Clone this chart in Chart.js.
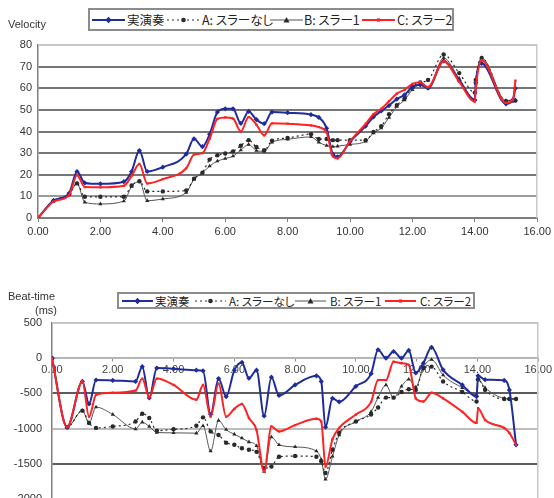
<!DOCTYPE html>
<html><head><meta charset="utf-8">
<script src="https://cdn.jsdelivr.net/npm/chart.js@4.4.1/dist/chart.umd.min.js"></script>
<style>
html,body{margin:0;padding:0;width:554px;height:498px;overflow:hidden;background:#fff;}
canvas{position:absolute;left:0;}
#c1{top:0;}
#c2{top:245px;}
.legend{position:absolute;border:2px solid #8c8c8c;box-sizing:border-box;background:#fff;
 font-family:"Noto Sans CJK JP",sans-serif;color:#222;font-feature-settings:"palt";white-space:nowrap;}
.legend .it{position:absolute;top:0;height:100%;display:flex;align-items:center;}
.legend svg{display:block;}
</style></head><body>
<canvas id="c1" width="554" height="245"></canvas>
<canvas id="c2" width="554" height="280"></canvas>
<div id="lg1" class="legend" style="left:88px;top:8px;width:366px;height:23px;font-size:12.5px;"></div>
<div id="lg2" class="legend" style="left:117px;top:292px;width:358px;height:17px;font-size:11.5px;"></div>
<script>
// ---------- data ----------
const seriesNames = ["実演奏", "A: スラーなし", "B: スラー1", "C: スラー2"];

const velX = [0,0.5,1.0,1.25,1.5,2.0,2.75,3.0,3.25,3.5,4.0,4.75,5.0,5.27,5.5,5.75,6.0,6.25,6.5,6.75,7.0,7.25,7.5,8.0,8.75,9.0,9.25,9.45,9.6,10.0,10.5,10.75,11.0,11.25,11.5,11.75,12.0,12.25,12.5,13.0,13.5,14.0,14.03,14.22,15.0,15.22,15.3];
const velReal = [0,8.0,11.5,21.5,16.2,15.8,16.8,21.5,31.2,21.5,23.5,29.5,36.6,33,38.7,49,50.5,50.5,43.8,49.3,45.5,43.6,49,48.7,47.8,46.5,41.5,29.5,28.3,35.3,42.5,46.7,49.5,52,55,57,60.6,61.6,60,72.6,63.5,54.5,62.5,71.5,52.8,54.6,60];
const velA = [0,8,11,16,9.8,9.8,9.8,15,17,12.3,12.3,12.7,18.2,21,27,29,29.8,30.8,33.4,36,32.8,31.3,35.8,37,38.8,36.5,36.5,36,36,36,36,39.8,42.4,48,52.2,55.4,60.5,62.7,63.8,75.6,67,58,63.8,74,54,54.3,54.3];
const velB = [0,8,11,16,7.3,6.5,7.8,14.5,17,8,8.8,11.8,17.9,20.8,24,26.3,27.5,28.6,31.4,34,31.2,30.8,35,36.4,37.5,35,33.5,33,33.2,34,35.5,39.3,41.6,46.5,51.5,54.6,59.3,61.6,60.2,74,64.5,55,62,74,54.3,54.6,54.6];
const velC = [0,7.6,10.6,19.8,14.3,14.2,14.9,19.5,25,16,18,23,29.3,30,36.6,45.8,46.5,46,40,46.7,43.2,38.2,43.8,43.6,42.8,42,39.5,28.5,27.6,35.5,43.5,48,50.5,54,57.5,59.3,62,62.8,60.5,72.5,63,53.8,60,73,53.2,54.6,63.5];

const btX = [0,0.5,1.0,1.22,1.45,2.0,2.75,2.97,3.2,3.45,4.0,4.75,4.97,5.22,5.48,5.73,6.0,6.25,6.48,6.73,6.98,7.22,7.47,8.0,8.7,8.86,9.0,9.23,9.45,10.0,10.5,10.73,10.99,11.24,11.5,11.74,11.97,12.22,12.49,12.87,13.5,13.97,14.02,14.25,14.88,15.05,15.27];
const btReal = [0,-980,-330,-650,-310,-315,-330,-120,-565,-140,-150,-170,-180,-800,-290,-545,-170,-60,-285,-170,-820,-270,-530,-380,-250,-330,-980,-570,-620,-400,-220,120,0,95,0,110,-210,-70,155,-165,-380,-545,-250,-305,-315,-450,-1230];
const btA = [0,-980,-745,-920,-990,-970,-900,-790,-850,-1030,-1010,-960,-840,-1040,-1090,-1200,-1230,-1280,-1300,-1330,-1560,-1540,-1400,-1390,-1400,-1465,-1630,-1300,-1060,-900,-800,-700,-560,-560,-480,-440,-450,-140,-120,-330,-480,-615,-300,-450,-580,-580,-580];
const btB = [0,-980,-745,-920,-695,-800,-1005,-910,-970,-1055,-1060,-1065,-960,-1320,-885,-1015,-1080,-1135,-1190,-1245,-1610,-1120,-1230,-1260,-1320,-1440,-1720,-1395,-1090,-900,-760,-560,-380,-565,-400,-300,-410,-130,-20,-240,-420,-520,-300,-420,-570,-575,-577];
const btC = [0,-980,-330,-830,-520,-490,-460,-290,-555,-290,-380,-590,-380,-830,-360,-830,-720,-650,-850,-1020,-1610,-970,-1040,-950,-860,-900,-1540,-1150,-990,-800,-620,-310,-310,-50,-70,-95,-570,-615,-490,-570,-760,-920,-710,-875,-990,-1060,-1230];

const xTickValues = [0,2,4,6,8,10,12,14,16];
const velTickValues = [0,10,20,30,40,50,60,70,80];
const btTickValues = [500,0,-500,-1000,-1500,-2000];

// ---------- styles ----------
const BLUE = "#1f2c9c", RED = "#ff2222", DARK = "#2a2a2a", GRAY = "#555555";
const tickFont = {family: '"Liberation Sans", Arial, sans-serif', size: 11};

function pts(xs, ys){ return xs.map((x,i)=>({x:x, y:ys[i]})); }
function makeSets(xs, real, a, b, c){
  return [
    {label: seriesNames[0], data: pts(xs, real), borderColor: BLUE, backgroundColor: BLUE, borderWidth: 2,
     pointStyle: 'rectRot', pointRadius: 2.6, order: 1},
    {label: seriesNames[1], data: pts(xs, a), borderColor: DARK, backgroundColor: DARK, borderWidth: 1.2,
     borderDash: [2,3], pointStyle: 'circle', pointRadius: 2.2, order: 2},
    {label: seriesNames[2], data: pts(xs, b), borderColor: GRAY, backgroundColor: DARK, borderWidth: 1,
     pointStyle: 'triangle', pointRadius: 2.4, order: 3},
    {label: seriesNames[3], data: pts(xs, c), borderColor: RED, backgroundColor: RED, borderWidth: 2,
     pointStyle: 'rect', pointRadius: 1.6, order: 0}
  ].map(d => Object.assign(d, {cubicInterpolationMode: 'monotone', pointBorderWidth: 0, fill: false}));
}

function titlePlugin(lines){
  return {id: 'ytitle', afterDraw(chart){
    const ctx = chart.ctx; ctx.save();
    ctx.font = '11px "Liberation Sans", Arial, sans-serif'; ctx.fillStyle = '#333'; ctx.textBaseline = 'middle';
    lines.forEach(l => ctx.fillText(l.t, l.x, l.y));
    ctx.restore();
  }};
}
const framePlugin = {id: 'frame', beforeDatasetsDraw(chart){
  const a = chart.chartArea, ctx = chart.ctx; ctx.save();
  ctx.strokeStyle = '#c8c8c8'; ctx.lineWidth = 1.5; ctx.beginPath();
  ctx.moveTo(a.left, a.top); ctx.lineTo(a.right - 0.5, a.top); ctx.lineTo(a.right - 0.5, a.bottom); ctx.stroke();
  ctx.restore();
}};

const common = {
  responsive: false, animation: false, devicePixelRatio: 1,
  plugins: {legend: {display: false}, tooltip: {enabled: false}},
  elements: {line: {tension: 0.3}}
};

// ---------- top chart ----------
new Chart(document.getElementById('c1'), {
  type: 'line',
  data: {datasets: makeSets(velX, velReal, velA, velB, velC)},
  options: Object.assign({}, common, {
    layout: {padding: {top: 45, right: 14, bottom: 3, left: 0}},
    scales: {
      x: {type: 'linear', min: 0, max: 16,
        afterBuildTicks: s => { s.ticks = xTickValues.map(v => ({value: v})); },
        afterFit: s => { s.height = 24; },
        ticks: {callback: v => Number(v).toFixed(2), color: '#333', font: tickFont, padding: 3, maxRotation: 0, autoSkip: false},
        grid: {drawOnChartArea: false, drawTicks: true, tickLength: 4, color: '#808080'},
        border: {color: '#808080', width: 1.5}},
      y: {type: 'linear', min: 0, max: 80,
        afterBuildTicks: s => { s.ticks = velTickValues.map(v => ({value: v})); },
        afterFit: s => { s.width = 38; },
        ticks: {color: '#333', font: tickFont, padding: 6},
        grid: {drawTicks: false, lineWidth: 2,
          color: c => c.tick.value === 80 ? '#c8c8c8' : (c.tick.value === 10 ? '#9a9a9a' : '#767676')},
        border: {color: '#808080', width: 1.5}}
    }
  }),
  plugins: [framePlugin, titlePlugin([{t: 'Velocity', x: 8, y: 25}])]
});

// ---------- bottom chart ----------
new Chart(document.getElementById('c2'), {
  type: 'line',
  data: {datasets: makeSets(btX, btReal, btA, btB, btC)},
  options: Object.assign({}, common, {
    layout: {padding: {top: 78, right: 12, bottom: 26, left: 0}},
    scales: {
      x: {type: 'linear', min: 0, max: 16, position: {y: 0},
        afterBuildTicks: s => { s.ticks = xTickValues.map(v => ({value: v})); },
        ticks: {callback: v => Number(v).toFixed(2), color: '#444', font: tickFont, padding: 2, maxRotation: 0, autoSkip: false},
        grid: {drawOnChartArea: false, drawTicks: true, tickLength: 3, color: '#909090'},
        border: {color: '#b4b4b4', width: 1.5}},
      y: {type: 'linear', min: -2000, max: 500,
        afterBuildTicks: s => { s.ticks = btTickValues.map(v => ({value: v})); },
        afterFit: s => { s.width = 52; },
        ticks: {callback: v => String(v), color: '#333', font: tickFont, padding: 10},
        grid: {drawTicks: false, lineWidth: 2,
          color: c => (c.tick.value === -500 || c.tick.value === -1500) ? '#5c5c5c' : '#bdbdbd'},
        border: {color: '#808080', width: 1.5}}
    }
  }),
  plugins: [framePlugin, titlePlugin([{t: 'Beat-time', x: 8, y: 52}, {t: '(ms)', x: 35, y: 66}])]
});

// ---------- legends ----------
function sample(i, w){
  const m = w/2, y = 5;
  const styles = [
    {c: BLUE, sw: 2, dash: '', mk: `<polygon points="${m},${y-3.2} ${m+3.2},${y} ${m},${y+3.2} ${m-3.2},${y}" fill="${BLUE}"/>`},
    {c: DARK, sw: 1.2, dash: '2,3', mk: `<circle cx="${m}" cy="${y}" r="2.3" fill="${DARK}"/>`},
    {c: GRAY, sw: 1, dash: '', mk: `<polygon points="${m},${y-3} ${m+3},${y+2.4} ${m-3},${y+2.4}" fill="${DARK}"/>`},
    {c: RED, sw: 2, dash: '', mk: `<rect x="${m-1.6}" y="${y-1.6}" width="3.2" height="3.2" fill="${RED}"/>`}
  ][i];
  return `<svg width="${w}" height="10"><line x1="0" y1="${y}" x2="${w}" y2="${y}" stroke="${styles.c}" stroke-width="${styles.sw}" ${styles.dash ? `stroke-dasharray="${styles.dash}"` : ''}/>${styles.mk}</svg>`;
}
function buildLegend(id, sw, sampleLefts, textLefts){
  const el = document.getElementById(id);
  seriesNames.forEach((n, i) => {
    const s = document.createElement('div'); s.className = 'it'; s.style.left = sampleLefts[i] + 'px';
    s.innerHTML = sample(i, sw); el.appendChild(s);
    const t = document.createElement('div'); t.className = 'it'; t.style.left = textLefts[i] + 'px';
    t.textContent = n; el.appendChild(t);
  });
}
buildLegend('lg1', 33, [2, 77, 180, 272], [37, 112, 214, 307]);
buildLegend('lg2', 31, [3, 76, 176, 266], [36, 110, 211, 301]);
</script>
</body></html>
